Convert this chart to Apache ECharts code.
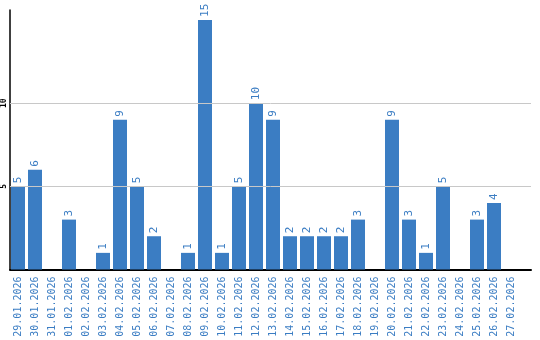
<!DOCTYPE html>
<html><head><meta charset="utf-8">
<script src="https://cdn.jsdelivr.net/npm/echarts@6/dist/echarts.min.js"></script>
<style>html,body{margin:0;padding:0;background:#fff}#c{width:540px;height:340px}</style>
</head><body><div id="c"></div>
<script>
var categories = ['29.01.2026','30.01.2026','31.01.2026','01.02.2026','02.02.2026','03.02.2026','04.02.2026','05.02.2026','06.02.2026','07.02.2026','08.02.2026','09.02.2026','10.02.2026','11.02.2026','12.02.2026','13.02.2026','14.02.2026','15.02.2026','16.02.2026','17.02.2026','18.02.2026','19.02.2026','20.02.2026','21.02.2026','22.02.2026','23.02.2026','24.02.2026','25.02.2026','26.02.2026','27.02.2026'];
var values = [5,6,0,3,0,1,9,5,2,0,1,15,1,5,10,9,2,2,2,2,3,0,9,3,1,5,0,3,4,0];
var yTickLabels = [5,10];

var blue = '#3b7dc3';
var font = 'DejaVu Sans Mono';
var yMax = 15.6;
var chart = echarts.init(document.getElementById('c'), null, {renderer:'canvas'});
chart.setOption({
  animation: false,
  grid: [
    {left: 9.5, top: 10, width: 510, bottom: 70.5},
    {left: 10, top: 10, right: 9, bottom: 70.5}
  ],
  xAxis: [
    {type:'category', gridIndex:0, data: categories,
     axisLine:{show:false}, axisTick:{show:false},
     axisLabel:{rotate:90, interval:0, margin:7, color: blue, fontFamily: font, fontSize: 10}},
    {type:'value', gridIndex:1, min:0, max:1,
     axisLine:{show:true, lineStyle:{color:'#000', width:2}}, axisTick:{show:false},
     axisLabel:{show:false}, splitLine:{show:false}}
  ],
  yAxis: [
    {type:'value', gridIndex:0, min:0, max:yMax, interval:5, show:false, splitLine:{show:false}},
    {type:'value', gridIndex:1, min:0, max:yMax, interval:5,
     axisLine:{show:true, lineStyle:{color:'#000', width:1.5}}, axisTick:{show:false},
     splitLine:{show:false},
     axisLabel:{rotate:90, margin:2, color:'#000', fontFamily: font, fontSize: 8, fontWeight:'bold',
       formatter: function(v){ return yTickLabels.indexOf(v) >= 0 ? String(v) : ''; }}}
  ],
  series: [{
    type:'line', xAxisIndex:1, yAxisIndex:1, data: [], silent:true, z:0,
    markLine:{silent:true, symbol:'none', label:{show:false}, animation:false,
      lineStyle:{color:'#c8c8c8', width:1, type:'solid'},
      data: yTickLabels.map(function(v){ return {yAxis: v}; })}
  },{
    type:'bar', xAxisIndex:0, yAxisIndex:0, data: values, barWidth: 14, z:3,
    itemStyle:{color: blue},
    label:{show:true, position:'top', rotate:90, align:'left', verticalAlign:'middle', distance:3,
      color: blue, fontFamily: font, fontSize: 11,
      formatter: function(p){ return p.value > 0 ? String(p.value) : ''; }}
  }]
});
</script></body></html>
